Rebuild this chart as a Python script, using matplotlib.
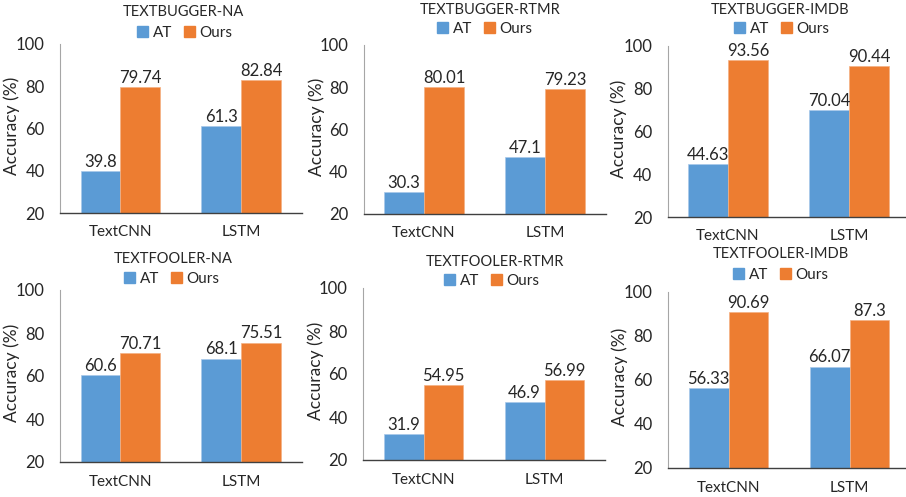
import numpy as np
import matplotlib
matplotlib.use('Agg')
import matplotlib.pyplot as plt
from matplotlib.patches import Patch

plt.rcParams['font.family'] = ['Lato', 'DejaVu Sans']

models = ['TextCNN', 'LSTM']
titles = ['TEXTBUGGER-NA', 'TEXTBUGGER-RTMR', 'TEXTBUGGER-IMDB',
          'TEXTFOOLER-NA', 'TEXTFOOLER-RTMR', 'TEXTFOOLER-IMDB']
at_vals = [['39.8', '61.3'], ['30.3', '47.1'], ['44.63', '70.04'],
           ['60.6', '68.1'], ['31.9', '46.9'], ['56.33', '66.07']]
ours_vals = [['79.74', '82.84'], ['80.01', '79.23'], ['93.56', '90.44'],
             ['70.71', '75.51'], ['54.95', '56.99'], ['90.69', '87.3']]
yticks = [20, 40, 60, 80, 100]

W, H = 906, 497
blue = '#5B9BD5'
orange = '#ED7D31'
txt = '#262626'

# axes boxes in pixels: left, right, top, bottom
boxes = [(60, 301.5, 44, 213), (363.5, 605.5, 45, 214), (667.5, 909.5, 46, 217),
         (60, 301.5, 290, 462), (363, 605, 288, 460), (668, 910, 292, 468)]
# title centre, legend centre, ylabel centre x
title_pos = [(183, 12), (490, 10), (780, 10), (173, 259), (495, 262), (781, 254)]
leg_pos = [(185, 33), (485, 29), (782, 29), (172, 279), (492, 281), (781, 275)]
ylab_x = [12, 317, 619, 12, 316, 620]

fig = plt.figure(figsize=(W/100, H/100), dpi=100)
x = np.arange(len(models))
w = 0.33

for i in range(6):
    l, r, t, b = boxes[i]
    ax = fig.add_axes([l/W, 1 - b/H, (r - l)/W, (b - t)/H])
    a = [float(v) for v in at_vals[i]]
    o = [float(v) for v in ours_vals[i]]
    ax.bar(x - w/2, a, w, color=blue, edgecolor='#A9C8EA', linewidth=0.5)
    ax.bar(x + w/2, o, w, color=orange, edgecolor='#F4B183', linewidth=0.5)
    for xi, s, v in zip(x - w/2, at_vals[i], a):
        ax.annotate(s, (xi, v), xytext=(0, 3), textcoords='offset points',
                    ha='center', va='baseline', fontsize=12, color=txt)
    for xi, s, v in zip(x + w/2, ours_vals[i], o):
        ax.annotate(s, (xi, v), xytext=(0, 3), textcoords='offset points',
                    ha='center', va='baseline', fontsize=12, color=txt)
    ax.set_xlim(-0.5, 1.5)
    ax.set_ylim(20, 100)
    ax.set_yticks(yticks)
    ax.set_xticks(x)
    ax.set_xticklabels(models)
    ax.tick_params(axis='both', length=0, colors=txt)
    ax.tick_params(axis='y', pad=11, labelsize=12)
    ax.tick_params(axis='x', pad=9, labelsize=11)
    ax.spines['top'].set_visible(False)
    ax.spines['right'].set_visible(False)
    ax.spines['left'].set_color('#A6A6A6')
    ax.spines['bottom'].set_color('#404040')
    ax.spines['bottom'].set_linewidth(1.0)

    fig.text(ylab_x[i]/W, 1 - ((t + b)/2 - 3)/H, 'Accuracy (%)', rotation=90,
             ha='center', va='center', fontsize=12.5, color=txt)
    fig.text(title_pos[i][0]/W, 1 - title_pos[i][1]/H, titles[i],
             ha='center', va='center', fontsize=10.5, color=txt)
    handles = [Patch(color=blue, label='AT'), Patch(color=orange, label='Ours')]
    ax.legend(handles=handles, ncol=2, loc='center',
              bbox_to_anchor=(leg_pos[i][0]/W, 1 - leg_pos[i][1]/H),
              bbox_transform=fig.transFigure, frameon=False, fontsize=11,
              handlelength=0.7, handleheight=0.7, handletextpad=0.3,
              columnspacing=0.8, borderpad=0, labelcolor=txt)

fig.savefig('out.png', dpi=100)
